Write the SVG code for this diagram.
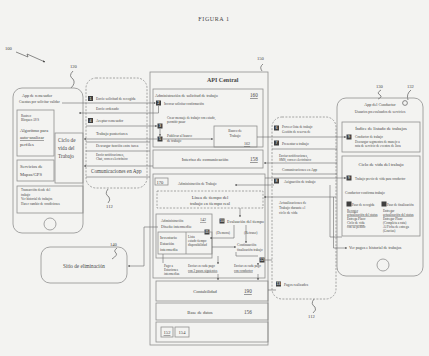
<svg xmlns="http://www.w3.org/2000/svg" width="429" height="356" viewBox="0 0 429 356">
<defs>
<marker id="ah" viewBox="0 0 6 6" refX="5.5" refY="3" markerWidth="3.2" markerHeight="3.2" orient="auto"><path d="M0 0 L6 3 L0 6 Z" fill="#444"/></marker>
<style>
text{font-family:"Liberation Serif","DejaVu Serif",serif;fill:#464646}
.b{fill:none;stroke:#8f8f8f;stroke-width:0.8}
.d{fill:none;stroke:#8f8f8f;stroke-width:0.8;stroke-dasharray:2 1.4}
.c{fill:none;stroke:#6a6a6a;stroke-width:0.6}
.ca{fill:none;stroke:#6a6a6a;stroke-width:0.6;marker-end:url(#ah)}
.sq{fill:none;stroke:#5a5a5a;stroke-width:0.7}
.mk{fill:#3f3f3f}
.mn{fill:#fff;font-size:3.6px;font-family:"Liberation Sans",sans-serif;text-anchor:middle}
.t3{font-size:3.3px}
.t35{font-size:3.6px}
.t4{font-size:4.1px}
.t45{font-size:4.6px}
.t5{font-size:5.2px}
.t6{font-size:6px}
.u{text-decoration:underline}
.m{text-anchor:middle}
</style>
</defs>
<rect width="429" height="356" fill="#f3f3f1"/>
<text x="214" y="21" class="t6 m" style="letter-spacing:0.6px">FIGURA 1</text>

<g id="labels">
<text x="5" y="50" class="t45">100</text>
<path class="sq" d="M16 52 L28 57 L27 54 L45 62" marker-end="url(#ah)"/>
<text x="70" y="68" class="t45">120</text>
<path class="sq" d="M73 71 Q68 76 73 79 Q76 83 71 88"/>
<text x="257" y="60" class="t45">150</text>
<path class="sq" d="M263 64 Q259 67 262 71"/>
<text x="106" y="208" class="t45">112</text>
<path class="sq" d="M108 189 Q104 194 109 197 Q111 200 108 203"/>
<text x="308" y="318" class="t45">112</text>
<path class="sq" d="M314 299 Q310 304 315 307 Q317 310 313 313"/>
<text x="376" y="88" class="t45">130</text>
<path class="sq" d="M381 90 Q376 93 380 95 Q383 97 378 99"/>
<text x="407" y="88" class="t45">132</text>
<path class="sq" d="M411 90 Q406 94 408 100"/>
<circle cx="405" cy="103" r="2.4" class="sq"/>
<text x="110" y="246" class="t45">140</text>
<path class="sq" d="M117 248 Q113 251 116 253 Q118 255 112 259"/>
</g>

<g id="app-remesador">
<rect class="b" x="13" y="88" width="70" height="145" rx="9"/>
<text x="22" y="97" class="t4">App de remesador</text>
<text x="19" y="103" class="t35">Cuentas por solicitar validar</text>
<rect class="b" x="17" y="110" width="37" height="46"/>
<text x="21" y="117" class="t3">Rastreo</text>
<text x="21" y="121" class="t3">Bloqueo AVS</text>
<text x="20" y="132" class="t45">Algoritmo para</text>
<text x="20" y="139" class="t45 u">auto-analizar</text>
<text x="20" y="146" class="t45">perfiles</text>
<rect class="b" x="55" y="133" width="28" height="50"/>
<text x="58" y="142" class="t5">Ciclo de</text>
<text x="58" y="150" class="t5">vida del</text>
<text x="58" y="158" class="t5">Trabajo</text>
<rect class="b" x="17" y="160" width="37" height="21"/>
<text x="20" y="168" class="t45">Servicios de</text>
<text x="20" y="176" class="t45">Mapas/GPS</text>
<rect class="b" x="17" y="186" width="66" height="27"/>
<text x="21" y="191" class="t3">Transacción desde del</text>
<text x="21" y="195.5" class="t3">trabajo</text>
<text x="21" y="200" class="t3">Ver historial de trabajos</text>
<text x="21" y="204.5" class="t3">Hacer cambio de condiciones</text>
<circle class="b" cx="50" cy="224" r="6"/>
</g>

<g id="canal-izq">
<rect class="d" x="86" y="78" width="61" height="110" rx="10"/>
<rect class="mk" x="88" y="96" width="5" height="5"/><text x="90.5" y="99.8" class="mn">1</text>
<text x="96" y="100" class="t35">Envío solicitud de recogida</text>
<text x="96" y="110" class="t35">Envío ordenado</text>
<rect class="mk" x="88" y="118" width="5" height="5"/><text x="90.5" y="121.8" class="mn">4</text>
<text x="96" y="122" class="t35">Aceptar remesador</text>
<text x="96" y="135" class="t4">Trabajo posteriores</text>
<text x="96" y="147" class="t35">Descargar función entre tarea</text>
<text x="96" y="156" class="t3">Envío notificaciones,</text>
<text x="96" y="160" class="t3">Chat, correo electrónico</text>
<text x="91" y="173" class="t5">Comunicaciones en App</text>
</g>

<g id="api-central">
<rect class="b" x="150" y="72" width="118" height="273"/>
<text x="207" y="82" class="t6" font-weight="bold">API Central</text>
</g>

<g id="solicitud-160">
<rect class="b" x="153" y="89" width="110" height="58"/>
<text x="155" y="97" class="t4">Administración de solicitud de trabajo</text>
<text x="250" y="97" class="t5 u">160</text>
<rect class="mk" x="156" y="100.5" width="5" height="5"/><text x="158.5" y="104.3" class="mn">2</text>
<text x="164" y="104.5" class="t3">Invocar solicitar confirmación</text>
<text x="167" y="119" class="t3">Crear mensaje de trabajo con estado,</text>
<text x="167" y="123" class="t3">permitir pasar</text>
<rect class="mk" x="157.5" y="123.5" width="5" height="5"/><text x="160" y="127.3" class="mn">3</text>
<rect class="mk" x="157.5" y="136.5" width="5" height="5"/><text x="160" y="140.3" class="mn">5</text>
<text x="167" y="137" class="t35">Publicar al banco</text>
<text x="167" y="141.5" class="t35">de trabajo</text>
</g>

<g id="banco-162">
<rect class="b" x="214" y="126" width="43" height="21"/>
<text x="235" y="132" class="t35 m">Banco de</text>
<text x="235" y="136.5" class="t35 m">Trabajo</text>
<text x="244" y="145" class="t4 u">162</text>
</g>

<g id="interfaz-158">
<rect class="b" x="153" y="150" width="110" height="18"/>
<text x="205" y="161" class="t45 m">Interfaz de comunicación</text>
<text x="250" y="161" class="t5 u">158</text>
</g>

<g id="trabajo-170">
<rect class="b" x="153" y="174" width="112" height="104"/>
<rect class="b" x="155" y="178" width="13" height="7"/>
<text x="156.5" y="184" class="t45">170</text>
<text x="178" y="185" class="t35">Administración de Trabajo</text>
<rect class="d" x="157" y="191" width="106" height="17"/>
<text x="210" y="198.5" class="t45 m">Línea de tiempo del</text>
<text x="210" y="205" class="t45 m">trabajo en tiempo real</text>
<rect class="mk" x="219.5" y="218.5" width="5" height="5"/><text x="222" y="222.3" class="mn">10</text>
<text x="227" y="222.5" class="t4">Evaluación del tiempo</text>
<text x="216" y="233.5" class="t35">(Demora)</text>
<text x="244" y="233.5" class="t35">(Retraso)</text>
<rect class="mk" x="204.5" y="229.5" width="5" height="5"/><text x="207" y="233.3" class="mn">11</text>
<text x="237" y="246" class="t35">Continuación</text>
<text x="237" y="250.5" class="t3">finalización trabajo</text>
<rect class="mk" x="259.5" y="257.5" width="5" height="5"/><text x="262" y="261.3" class="mn">12</text>
<text x="164" y="267" class="t3">Pago a</text>
<text x="164" y="271" class="t3">Estaciones</text>
<text x="164" y="275" class="t3">intermedias</text>
<text x="188" y="267" class="t3">Enviar en cada pago</text>
<text x="188" y="271.5" class="t3 u">con 2 pasos siguientes</text>
<text x="234" y="267" class="t3">Enviar en cada pago</text>
<text x="234" y="271.5" class="t3 u">con conductor</text>
</g>

<g id="intermedio-142">
<rect class="b" x="156" y="214" width="56" height="44"/>
<text x="161" y="222" class="t35">Administración</text>
<text x="161" y="228" class="t4">Diseño intermedio</text>
<text x="200" y="221" class="t4 u">142</text>
<rect class="b" x="158" y="232" width="54" height="22"/>
<line class="b" x1="186" y1="232" x2="186" y2="254"/>
<text x="160" y="239" class="t4">Inventario</text>
<text x="160" y="245" class="t4">Estación</text>
<text x="160" y="251" class="t4">intermedia</text>
<text x="188" y="238" class="t3">Lista</text>
<text x="188" y="242" class="t3">estado tiempo</text>
<text x="188" y="246" class="t3">disponibilidad</text>
</g>

<g id="contabilidad-190">
<rect class="b" x="156" y="281" width="112" height="20"/>
<text x="205" y="293" class="t45 m">Contabilidad</text>
<text x="244" y="293" class="t5 u">190</text>
</g>
<g id="base-datos-156">
<rect class="b" x="156" y="303" width="112" height="17"/>
<text x="200" y="313.5" class="t45 m">Base de datos</text>
<text x="244" y="313.5" class="t5">156</text>
</g>
<g id="modulos-152-154">
<rect class="b" x="156" y="322" width="112" height="20"/>
<rect class="b" x="161" y="327" width="12" height="10"/>
<text x="167" y="334" class="t45 m u">152</text>
<rect class="b" x="175" y="327" width="14" height="10"/>
<text x="182" y="334" class="t45 m">154</text>
</g>

<g id="sitio-140">
<rect class="b" x="41" y="247" width="86" height="36" rx="9"/>
<text x="84" y="268" class="t5 m">Sitio de eliminación</text>
</g>

<g id="canal-der">
<rect class="d" x="272" y="117" width="64" height="182" rx="10"/>
<rect class="mk" x="274" y="125.5" width="5" height="5"/><text x="276.5" y="129.3" class="mn">6</text>
<text x="282" y="128" class="t3">Proveer lista de trabajo</text>
<text x="282" y="132.5" class="t3">Gestión de reserva de</text>
<rect class="mk" x="274" y="140.5" width="5" height="5"/><text x="276.5" y="144.3" class="mn">7</text>
<text x="282" y="144.5" class="t35">Presentar a trabajo</text>
<text x="279" y="157" class="t3">Enviar notificaciones,</text>
<text x="279" y="161" class="t3">SMS, correo electrónico</text>
<text x="282" y="171" class="t35">Comunicaciones en App</text>
<rect class="mk" x="274" y="178.5" width="5" height="5"/><text x="276.5" y="182.3" class="mn">8</text>
<text x="284" y="182.5" class="t35">Asignación de trabajo</text>
<text x="279" y="204" class="t35">Actualizaciones de</text>
<text x="279" y="209" class="t35">Trabajo durante el</text>
<text x="279" y="214" class="t35">ciclo de vida</text>
<rect class="mk" x="276" y="281.5" width="5" height="5"/><text x="278.5" y="285.3" class="mn">13</text>
<text x="284" y="285.5" class="t35">Pagos realizados</text>
</g>

<g id="app-conductor">
<rect class="b" x="337" y="98" width="86" height="178" rx="9"/>
<text x="380" y="105.5" class="t4 m">App del Conductor</text>
<text x="380" y="113" class="t35 m">Usuarios preevaluados de servicios</text>
<rect class="b" x="342" y="122" width="78" height="30"/>
<text x="381" y="130" class="t45 m">Índice de listado de trabajos</text>
<rect class="mk" x="346.5" y="134.5" width="5" height="5"/><text x="349" y="138.3" class="mn">9</text>
<text x="355" y="138" class="t3">Conductor de trabajo</text>
<text x="355" y="142.5" class="t3">Descargar segmentos de manejo a</text>
<text x="355" y="147" class="t3">ruta de servicio de eventos de Java</text>
<rect class="b" x="342" y="156" width="78" height="80"/>
<text x="381" y="166" class="t45 m">Ciclo de vida del trabajo</text>
<rect class="mk" x="346.5" y="175.5" width="5" height="5"/><text x="349" y="179.3" class="mn">9</text>
<text x="355" y="179.5" class="t3">Trabajo previo de vida para conductor</text>
<text x="345" y="194" class="t35">Conductor confirma trabajo</text>
<rect class="mk" x="346.5" y="201.5" width="5" height="5"/>
<text x="352" y="205.5" class="t3">Paso de recogida</text>
<rect class="mk" x="381.5" y="201.5" width="5" height="5"/>
<text x="387" y="205.5" class="t3">Paso de finalización</text>
<text x="347" y="211.5" class="t3 u">Recoger</text>
<text x="347" y="215.5" class="t3 u">actualización del status</text>
<text x="347" y="219.5" class="t3">Entrega Plazo</text>
<text x="347" y="224" class="t3 u">Ciclo de vida</text>
<text x="347" y="228" class="t3">con su pedido</text>
<text x="383" y="211.5" class="t3">Entregar</text>
<text x="383" y="215.5" class="t3 u">actualización del status</text>
<text x="383" y="219.5" class="t3">Entregar Plazo</text>
<text x="383" y="224" class="t3">(Completa a ruta)</text>
<text x="383" y="228" class="t3">Al Ficha de entrega</text>
<text x="383" y="232" class="t3">(Gracias)</text>
<text x="349" y="249" class="t4">Ver pagos e historial de trabajos</text>
<circle class="b" cx="383" cy="265" r="6"/>
</g>

<g id="connectors">
<path class="ca" d="M62 103 H155.5"/>
<path class="ca" d="M158.5 106 V113 H79"/>
<path class="ca" d="M86 126 H157"/>
<path class="ca" d="M160 129 V136"/>
<path class="ca" d="M157 139 H84"/>
<path class="ca" d="M163 139 H213"/>
<path class="c" d="M86 142 H150"/>
<path class="c" d="M86 151 H150"/>
<path class="ca" d="M153 166 H84"/>
<path class="c" d="M86 177 H150"/>
<path class="ca" d="M257 137 H346"/>
<path class="c" d="M272 149 H337"/>
<path class="ca" d="M337 163 H264"/>
<path class="c" d="M272 174 H337"/>
<path class="ca" d="M265 178 H346"/>
<path class="ca" d="M274 185 H235"/>
<path class="ca" d="M336 197 H264"/>
<path class="c" d="M330 185 V237 H342"/>
<path class="ca" d="M333.5 197 V248 H347"/>
<path class="ca" d="M240 208 V217"/>
<path class="ca" d="M234 225 V238 H210"/>
<path class="ca" d="M246 225 V243"/>
<path class="ca" d="M212 247 H236"/>
<path class="c" d="M236 252 V256 H258"/>
<path class="ca" d="M218 256 V264"/>
<path class="ca" d="M258 263 V265"/>
<path class="c" d="M163 254 V263"/>
<path class="ca" d="M218 274 V280"/>
<path class="ca" d="M258 274 V280"/>
<path class="c" d="M268 290 H276"/>
<path class="c" d="M265 260 H272"/>
<path class="ca" d="M158 227 H144 V266 H128"/>
</g>
</svg>
